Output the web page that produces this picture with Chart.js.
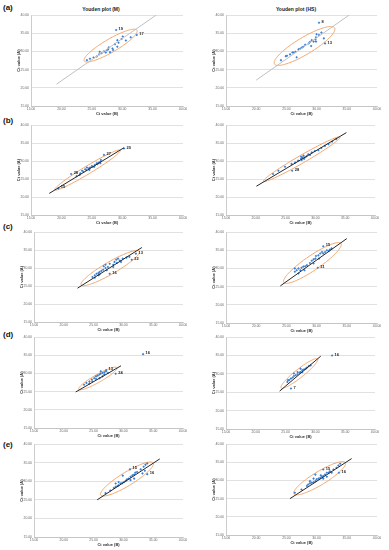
<!DOCTYPE html>
<html>
<head>
<meta charset="utf-8">
<script src="https://cdn.jsdelivr.net/npm/chart.js@4.4.1/dist/chart.umd.min.js"></script>
<style>
  body { margin: 0; background: #fff; width: 389px; height: 550px; position: relative; overflow: hidden;
         font-family: "Liberation Sans", Arial, sans-serif; }
  canvas { position: absolute; }
  .tag { position: absolute; left: 3px; font-weight: bold; font-size: 8px; line-height: 9px; color: #111; }
  .head { position: absolute; top: 6px; font-weight: bold; font-size: 5px; line-height: 6px; color: #222;
          transform: translateX(-50%); white-space: nowrap; }
</style>
</head>
<body>
<div class="head" style="left:101px">Youden plot (M)</div>
<div class="head" style="left:296px">Youden plot (HS)</div>
<div class="tag" style="top:3px">(a)</div>
<div class="tag" style="top:116px">(b)</div>
<div class="tag" style="top:222px">(c)</div>
<div class="tag" style="top:330px">(d)</div>
<div class="tag" style="top:440px">(e)</div>

<script>
// axis ticks shared by every panel (Ct values)
const axisTicks = [15, 20, 25, 30, 35, 40];

// (a) M
const aM_B = [24.2, 24.7, 25.3, 25.8, 26.2, 26.3, 26.6, 27.0, 27.3, 27.5, 27.7, 27.8, 28.0, 28.4, 28.5, 28.8, 29.2, 29.2, 29.4, 29.9, 30.1, 30.6, 31.4];
const aM_A = [27.6, 28.0, 28.3, 28.6, 29.2, 29.9, 29.5, 30.0, 29.7, 30.4, 30.6, 31.1, 29.8, 30.8, 30.4, 32.0, 31.3, 33.1, 32.4, 33.4, 34.1, 33.0, 33.9];
const aM_outId = ["19", "17"];
const aM_outB = [29.0, 32.4];
const aM_outA = [35.9, 34.5];
const aM_lineB = [19.2, 35.6];
const aM_lineA = [21.0, 40.0];
const aM_ellipse = [28.1, 31.6, 6.1, 1.5, 46]; // centre B, centre A, half-major, half-minor, angle

// (a) HS
const aHS_B = [24.1, 24.9, 25.1, 25.6, 26.0, 26.2, 26.5, 26.7, 27.0, 27.3, 27.6, 27.8, 28.1, 28.7, 28.9, 29.1, 29.2, 29.5, 29.8, 29.9, 29.9, 30.0, 30.4, 30.8, 31.2];
const aHS_A = [27.6, 28.7, 28.8, 29.2, 29.7, 29.7, 29.9, 28.4, 30.6, 30.8, 31.1, 31.3, 31.8, 32.2, 32.6, 31.5, 33.1, 32.7, 33.3, 33.9, 32.7, 34.7, 34.5, 35.2, 33.6];
const aHS_outId = ["8", "13"];
const aHS_outB = [30.4, 31.4];
const aHS_outA = [37.9, 32.2];
const aHS_lineB = [20.0, 35.4];
const aHS_lineA = [22.1, 40.0];
const aHS_ellipse = [28.0, 31.5, 7.1, 1.9, 47];

// (b) M
const bM_B = [22.5, 23.0, 23.1, 23.4, 23.6, 23.9, 24.1, 24.2, 24.5, 24.6, 24.7, 25.0, 25.2, 25.4, 25.5, 25.8, 25.9, 26.1, 26.4, 26.4, 26.5];
const bM_A = [25.8, 26.1, 26.6, 27.3, 27.0, 27.7, 27.5, 28.2, 27.9, 27.5, 28.2, 28.6, 28.4, 28.4, 28.9, 29.4, 29.1, 29.5, 29.8, 29.4, 30.3];
const bM_outId = ["27", "20", "28", "15"];
const bM_outB = [27.0, 30.3, 21.6, 19.5];
const bM_outA = [31.7, 33.5, 26.4, 22.4];
const bM_lineB = [18.0, 30.3];
const bM_lineA = [21.0, 33.7];
const bM_ellipse = [24.3, 27.5, 7.7, 0.9, 46];

// (b) HS
const bHS_B = [22.9, 23.8, 24.9, 26.0, 26.6, 27.1, 27.6, 27.6, 27.7, 27.8, 28.0, 28.1, 28.2, 28.5, 28.8, 29.1, 29.4, 29.9, 30.5, 31.0, 31.6, 32.2, 32.8, 33.5];
const bHS_A = [26.4, 27.3, 28.4, 29.2, 29.6, 30.1, 30.6, 31.2, 30.3, 31.0, 31.5, 30.6, 31.0, 31.3, 31.9, 31.7, 32.4, 32.8, 33.0, 33.6, 34.2, 34.7, 35.4, 36.1];
const bHS_outId = ["28"];
const bHS_outB = [26.1];
const bHS_outA = [27.3];
const bHS_lineB = [20.1, 35.2];
const bHS_lineA = [23.0, 37.9];
const bHS_ellipse = [27.7, 30.5, 8.9, 0.9, 44];

// (c) M
const cM_B = [24.8, 25.2, 25.2, 25.5, 25.8, 25.8, 26.0, 26.0, 26.3, 26.6, 27.0, 27.2, 27.4, 26.7, 27.0, 27.7, 28.3, 28.3, 28.5, 28.9, 28.8, 29.1, 29.4, 29.6, 29.9, 30.5, 31.0];
const cM_A = [27.5, 27.3, 28.0, 28.4, 28.0, 28.6, 28.9, 28.2, 29.2, 29.5, 30.0, 29.4, 30.3, 30.5, 30.9, 31.2, 30.9, 30.3, 31.7, 31.4, 32.3, 32.6, 32.1, 31.7, 32.6, 32.9, 33.1];
const cM_outId = ["16", "22", "13"];
const cM_outB = [27.7, 31.4, 32.1];
const cM_outA = [28.4, 32.3, 34.0];
const cM_lineB = [22.3, 33.1];
const cM_lineA = [24.4, 35.7];
const cM_ellipse = [27.8, 30.0, 6.8, 1.4, 45];

// (c) HS
const cHS_B = [26.4, 26.4, 26.7, 27.0, 27.0, 27.3, 27.5, 27.8, 28.0, 28.1, 28.4, 28.9, 29.2, 29.5, 29.5, 29.8, 29.9, 30.3, 30.4, 30.6, 30.9, 31.1, 31.4, 31.7, 32.0, 32.2, 32.5];
const cHS_A = [29.1, 30.0, 29.5, 30.0, 28.6, 29.5, 30.2, 30.5, 29.5, 30.6, 30.9, 31.5, 32.1, 32.5, 31.4, 32.7, 33.4, 33.6, 32.7, 34.1, 34.5, 34.1, 34.5, 35.0, 34.8, 35.2, 35.5];
const cHS_outId = ["15", "31"];
const cHS_outB = [31.1, 30.2];
const cHS_outA = [36.1, 30.2];
const cHS_lineB = [24.0, 35.0];
const cHS_lineA = [25.2, 38.2];
const cHS_ellipse = [29.3, 31.5, 7.2, 1.6, 50];

// (d) M
const dM_B = [23.4, 23.8, 24.3, 24.3, 24.7, 24.8, 25.1, 25.4, 25.4, 25.7, 26.0, 26.0, 26.2, 26.2, 26.5, 26.5, 26.8, 26.8, 27.1, 27.4];
const dM_A = [26.9, 27.4, 27.2, 27.8, 28.3, 27.8, 28.7, 28.5, 29.2, 29.4, 28.7, 29.7, 29.9, 30.6, 29.2, 30.1, 29.7, 30.3, 30.6, 30.1];
const dM_outId = ["16", "13", "24"];
const dM_outB = [33.3, 27.1, 28.7];
const dM_outA = [35.3, 30.9, 29.9];
const dM_lineB = [22.0, 29.6];
const dM_lineA = [24.9, 32.1];
const dM_ellipse = [25.7, 28.6, 4.4, 0.9, 44];

// (d) HS
const dHS_B = [25.3, 25.4, 25.6, 25.9, 26.2, 26.4, 26.4, 26.7, 27.0, 27.0, 27.3, 27.5, 27.5, 27.8, 27.8, 28.1, 28.4, 28.6, 28.9, 29.2];
const dHS_A = [27.8, 28.3, 28.3, 28.7, 29.0, 29.4, 30.1, 29.6, 29.9, 30.5, 30.3, 30.5, 31.4, 31.0, 30.5, 31.2, 31.4, 31.7, 32.1, 32.3];
const dHS_outId = ["16", "7"];
const dHS_outB = [32.8, 25.9];
const dHS_outA = [35.0, 26.0];
const dHS_lineB = [24.0, 30.9];
const dHS_lineA = [25.3, 34.8];
const dHS_ellipse = [27.3, 30.1, 5.0, 0.9, 53];

// (e) M
const eM_B = [27.0, 27.8, 28.4, 28.7, 28.7, 29.0, 29.2, 29.2, 29.5, 29.8, 29.9, 30.1, 30.4, 30.6, 30.9, 31.2, 31.2, 31.5, 31.8, 31.8, 32.0, 32.3, 32.9, 33.2, 33.4, 33.6, 33.7, 34.0];
const eM_A = [26.8, 27.5, 28.2, 28.5, 29.4, 28.7, 28.9, 29.8, 29.4, 29.5, 31.5, 29.8, 30.1, 30.5, 30.7, 31.2, 30.3, 31.6, 31.8, 30.7, 32.3, 32.5, 33.2, 32.1, 33.9, 32.8, 34.4, 34.8];
const eM_outId = ["15", "16"];
const eM_outB = [31.1, 34.0];
const eM_outA = [33.2, 31.9];
const eM_lineB = [25.6, 36.1];
const eM_lineA = [25.0, 36.0];
const eM_ellipse = [30.6, 30.6, 6.2, 1.5, 46];

// (e) HS
const eHS_B = [26.4, 27.5, 28.4, 28.6, 28.9, 28.9, 29.2, 29.5, 29.5, 29.8, 29.8, 30.0, 30.3, 30.6, 30.7, 30.9, 31.1, 31.1, 31.4, 31.7, 31.7, 32.0, 32.2, 32.5, 32.8, 33.3, 33.6, 33.9];
const eHS_A = [26.6, 27.5, 28.5, 28.9, 29.2, 29.8, 29.4, 29.5, 30.5, 29.8, 31.6, 30.3, 30.5, 30.7, 31.4, 31.0, 31.2, 30.5, 31.6, 32.1, 31.0, 32.1, 32.5, 32.1, 33.0, 33.5, 34.1, 34.6];
const eHS_outId = ["15", "16"];
const eHS_outB = [31.1, 33.7];
const eHS_outA = [33.0, 32.1];
const eHS_lineB = [25.6, 35.8];
const eHS_lineA = [25.0, 36.0];
const eHS_ellipse = [30.5, 30.6, 6.1, 1.5, 47];

const BLUE = "#3b7fd4";
const ORANGE = "#f2a56b";
const FONT = "'Liberation Sans', Arial, sans-serif";

const toPoints = (xs, ys) => xs.map((x, i) => ({ x: x, y: ys[i] }));

// draws the Youden ellipse through the chart scales, then the outlier numbers
const youdenPlugin = {
  id: "youden",
  beforeDatasetsDraw(chart, args, opts) {
    const [cx, cy, a, b, deg] = opts.ellipse;
    const sx = chart.scales.x, sy = chart.scales.y, ctx = chart.ctx;
    const t = deg * Math.PI / 180;
    ctx.save();
    ctx.beginPath();
    for (let i = 0; i <= 120; i++) {
      const th = i / 120 * 2 * Math.PI;
      const u = a * Math.cos(th), v = b * Math.sin(th);
      const px = sx.getPixelForValue(cx + u * Math.cos(t) - v * Math.sin(t));
      const py = sy.getPixelForValue(cy + u * Math.sin(t) + v * Math.cos(t));
      if (i === 0) ctx.moveTo(px, py); else ctx.lineTo(px, py);
    }
    ctx.strokeStyle = ORANGE;
    ctx.lineWidth = 1;
    ctx.stroke();
    ctx.restore();
  },
  afterDatasetsDraw(chart) {
    const ctx = chart.ctx;
    chart.data.datasets.forEach((ds, di) => {
      if (!ds.ids) return;
      const meta = chart.getDatasetMeta(di);
      ctx.save();
      ctx.font = "bold 4px " + FONT;
      ctx.fillStyle = "#222";
      ctx.textBaseline = "middle";
      meta.data.forEach((pt, i) => ctx.fillText(ds.ids[i], pt.x + 2.5, pt.y - 1));
      ctx.restore();
    });
  },
};

const drawPanel = function (box, yWidth, padRight, lineColor, B, A, outId, outB, outA, lineB, lineA, ellipse) {
  const canvas = document.createElement("canvas");
  canvas.width = box[2];
  canvas.height = box[3];
  canvas.style.left = box[0] + "px";
  canvas.style.top = box[1] + "px";
  document.body.appendChild(canvas);

  const axis = (title, isY) => ({
    type: "linear",
    min: axisTicks[0],
    max: axisTicks[axisTicks.length - 1],
    afterBuildTicks: (s) => { s.ticks = axisTicks.map((v) => ({ value: v })); },
    afterFit: (s) => { if (isY) s.width = yWidth; else s.height = 10; },
    ticks: {
      autoSkip: false, maxRotation: 0, padding: isY ? 2 : 1,
      color: "#666", font: { size: 3.4, family: FONT },
      callback: (v) => Number(v).toFixed(2),
    },
    grid: { display: isY, color: "#d9d9d9", lineWidth: 0.8, drawTicks: false },
    border: { display: true, color: "#bfbfbf", width: 0.8 },
    title: {
      display: true, text: title, color: "#333",
      font: { size: 4, weight: "bold", family: FONT },
      padding: isY ? { top: yWidth - 15, bottom: 0 } : { top: 0, bottom: 0 },
    },
  });

  new Chart(canvas, {
    type: "scatter",
    data: {
      datasets: [
        {
          data: toPoints(lineB, lineA), showLine: true, borderColor: lineColor,
          borderWidth: 1, pointRadius: 0, fill: false,
        },
        {
          data: toPoints(B, A), backgroundColor: BLUE, borderColor: BLUE,
          pointStyle: "rectRot", pointRadius: 1.3, borderWidth: 0,
        },
        {
          data: toPoints(outB, outA), ids: outId, backgroundColor: BLUE, borderColor: BLUE,
          pointStyle: "rectRot", pointRadius: 1.3, borderWidth: 0,
        },
      ],
    },
    options: {
      responsive: false,
      animation: false,
      layout: { padding: { top: 4, right: padRight, left: 0, bottom: 0 } },
      plugins: {
        legend: { display: false },
        tooltip: { enabled: false },
        youden: { ellipse: ellipse },
      },
      scales: { x: axis("Ct value (B)", false), y: axis("Ct value (A)", true) },
    },
    plugins: [youdenPlugin],
  });
};

const init = function () {
  const GREY = "#c0c0c0", DARK = "#262626";
  drawPanel([0, 11, 190, 105], 31, 7, GREY, aM_B, aM_A, aM_outId, aM_outB, aM_outA, aM_lineB, aM_lineA, aM_ellipse);
  drawPanel([195, 11, 190, 105], 31, 8, GREY, aHS_B, aHS_A, aHS_outId, aHS_outB, aHS_outA, aHS_lineB, aHS_lineA, aHS_ellipse);
  drawPanel([0, 121, 190, 104], 31, 7, DARK, bM_B, bM_A, bM_outId, bM_outB, bM_outA, bM_lineB, bM_lineA, bM_ellipse);
  drawPanel([195, 121, 190, 104], 31, 10, DARK, bHS_B, bHS_A, bHS_outId, bHS_outB, bHS_outA, bHS_lineB, bHS_lineA, bHS_ellipse);
  drawPanel([0, 228, 190, 104], 34, 7, DARK, cM_B, cM_A, cM_outId, cM_outB, cM_outA, cM_lineB, cM_lineA, cM_ellipse);
  drawPanel([195, 228, 190, 105], 31, 8, DARK, cHS_B, cHS_A, cHS_outId, cHS_outB, cHS_outA, cHS_lineB, cHS_lineA, cHS_ellipse);
  drawPanel([0, 333, 190, 105], 34, 7, DARK, dM_B, dM_A, dM_outId, dM_outB, dM_outA, dM_lineB, dM_lineA, dM_ellipse);
  drawPanel([195, 333, 190, 106], 31, 10, DARK, dHS_B, dHS_A, dHS_outId, dHS_outB, dHS_outA, dHS_lineB, dHS_lineA, dHS_ellipse);
  drawPanel([0, 440, 190, 107], 34, 7, DARK, eM_B, eM_A, eM_outId, eM_outB, eM_outA, eM_lineB, eM_lineA, eM_ellipse);
  drawPanel([195, 440, 190, 105], 31, 8, DARK, eHS_B, eHS_A, eHS_outId, eHS_outB, eHS_outA, eHS_lineB, eHS_lineA, eHS_ellipse);
};

if (document.readyState !== "loading") init();
else document.addEventListener("DOMContentLoaded", init);
</script>
</body>
</html>
